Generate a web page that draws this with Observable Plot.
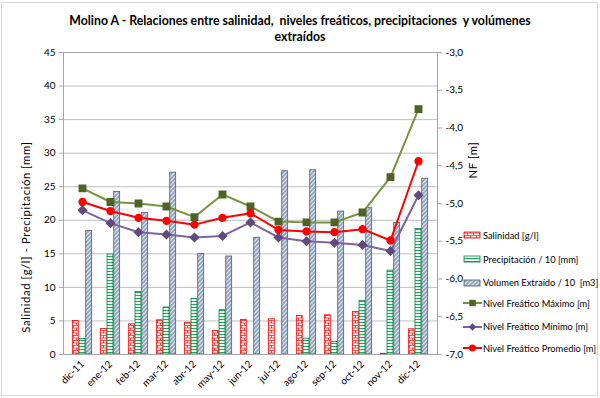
<!DOCTYPE html>
<html><head><meta charset="utf-8">
<script src="https://cdn.jsdelivr.net/npm/d3@7"></script>
<script src="https://cdn.jsdelivr.net/npm/@observablehq/plot@0.6"></script>
<style>
body{margin:0;background:#fff;}
#wrap{position:relative;width:600px;height:398px;font-family:Lato,"Open Sans",sans-serif;color:#000;overflow:hidden;}
#frame{position:absolute;left:1px;top:2px;width:597px;height:394px;border:1px solid #d9d9d9;box-sizing:border-box;}
#title{position:absolute;left:0;top:13px;width:600px;text-align:center;font-weight:bold;font-size:12.3px;line-height:16px;}
.ylab{position:absolute;transform:translate(-50%,-50%) rotate(-90deg);white-space:nowrap;font-size:11.3px;letter-spacing:0.6px;}
#legend{position:absolute;left:463px;top:0;font-size:9.3px;}
.li{position:absolute;left:0;height:12px;display:flex;align-items:center;white-space:nowrap;}
.li svg{margin-right:1px;}
svg.plot{position:absolute;left:0;top:0;}
</style></head><body>
<div id="wrap">
<div id="frame"></div>
<div id="title">Molino A - Relaciones entre salinidad,&nbsp; niveles freáticos, precipitaciones&nbsp; y volúmenes<br>extraídos</div>
</div>
<script>
const months = ["dic-11","ene-12","feb-12","mar-12","abr-12","may-12","jun-12","jul-12","ago-12","sep-12","oct-12","nov-12","dic-12"];
const salinidad = [5.0,3.8,4.5,5.1,4.7,3.5,5.15,5.25,5.75,5.85,6.35,0.1,3.75];
const precip10 = [2.3,14.9,9.3,7.0,8.3,6.6,0,0,2.35,1.85,8.0,12.5,18.7];
const volumen10 = [18.4,24.2,21.1,27.1,15.0,14.6,17.4,27.3,27.45,21.3,21.8,19.6,26.2];
const nfMax = [-4.80,-4.98,-5.00,-5.04,-5.18,-4.88,-5.04,-5.24,-5.25,-5.25,-5.12,-4.65,-3.75];
const nfMin = [-5.09,-5.26,-5.38,-5.41,-5.45,-5.43,-5.25,-5.45,-5.50,-5.52,-5.55,-5.63,-4.89];
const nfProm = [-4.98,-5.10,-5.19,-5.23,-5.28,-5.19,-5.13,-5.35,-5.37,-5.38,-5.34,-5.49,-4.44];
const leftTicks = [0,5,10,15,20,25,30,35,40,45];
const rightTicks = [-7,-6.5,-6,-5.5,-5,-4.5,-4,-3.5,-3];
const legendLabels = ["Salinidad [g/l]","Precipitación / 10 [mm]","Volumen Extraído / 10  [m3]","Nivel Freático Máximo [m]","Nivel Freático Mínimo [m]","Nivel Freático Promedio [m]"];

// right axis (-7..-3) mapped onto left axis (0..45)
const toL = v => (v + 7) * 45 / 4;
const fromL = d => d * 4 / 45 - 7;

const data = months.map((m,i)=>({m, sal:salinidad[i], pre:precip10[i], vol:volumen10[i],
  max:toL(nfMax[i]), min:toL(nfMin[i]), avg:toL(nfProm[i])}));

const W=600,H=398,mL=63,mR=163,mT=52,mB=44;
const bw=(W-mL-mR)/months.length, barW=6.7, g0=(bw-3*barW)/2;
const ins = k => ({insetLeft:g0+k*barW, insetRight:bw-g0-(k+1)*barW});

const cMax="#77933C", cMaxM="#4F6228", cMin="#8064A2", cMinM="#604A7B", cAvg="#FF0000";
const font = 'Lato, "Open Sans", sans-serif';

const plot = Plot.plot({
  width:W, height:H, marginTop:mT, marginBottom:mB, marginLeft:mL, marginRight:mR,
  style:{fontFamily:font, background:"transparent", color:"#000", overflow:"visible"},
  x:{type:"band", domain:months, padding:0},
  y:{domain:[0,45]},
  marks:[
    Plot.gridY(leftTicks.filter(d=>d>0), {stroke:"#bfbfbf", strokeOpacity:1, strokeWidth:1}),
    Plot.barY(data,{x:"m", y:"sal", fill:"url(#pSal)", stroke:"#ff0000", strokeWidth:0.8, ...ins(0)}),
    Plot.barY(data.filter(d=>d.pre>0),{x:"m", y:"pre", fill:"url(#pPre)", stroke:"#00803f", strokeWidth:0.8, ...ins(1)}),
    Plot.barY(data,{x:"m", y:"vol", fill:"url(#pVol)", stroke:"#595959", strokeWidth:0.8, ...ins(2)}),
    Plot.frame({stroke:"#a6a6a6", strokeWidth:1}),
    Plot.line(data,{x:"m", y:"max", stroke:cMax, strokeWidth:2}),
    Plot.dot(data,{x:"m", y:"max", symbol:"square", r:3.6, fill:cMaxM, stroke:cMaxM}),
    Plot.line(data,{x:"m", y:"min", stroke:cMin, strokeWidth:2}),
    Plot.dot(data,{x:"m", y:"min", symbol:"diamond2", r:3.6, fill:cMinM, stroke:cMinM}),
    Plot.line(data,{x:"m", y:"avg", stroke:cAvg, strokeWidth:2}),
    Plot.dot(data,{x:"m", y:"avg", symbol:"circle", r:3.4, fill:cAvg, stroke:cAvg}),
    Plot.axisY({anchor:"left", ticks:leftTicks, tickSize:4, tickPadding:4, fontSize:10, label:null, stroke:"#a6a6a6", fill:"#000"}),
    Plot.axisY({anchor:"right", ticks:rightTicks.map(toL), tickFormat:d=>fromL(d).toFixed(1).replace(".",","), tickSize:4, tickPadding:4, fontSize:10, label:null, stroke:"#a6a6a6", fill:"#000"}),
    Plot.axisX({tickRotate:-45, tickSize:0, tickPadding:8, fontSize:10, label:null, fill:"#000"})
  ]
});
plot.classList.add("plot");
const defs = `<defs>
<pattern id="pSal" patternUnits="userSpaceOnUse" width="6" height="5">
 <rect width="6" height="5" fill="#fff"/>
 <path d="M0,0.5H6M0,3H6M1.5,0.5V3M4.5,3V5.5" stroke="#ff0000" stroke-width="0.7" fill="none"/>
</pattern>
<pattern id="pPre" patternUnits="userSpaceOnUse" width="4" height="3">
 <rect width="4" height="3" fill="#f2f9f2"/>
 <path d="M0,1.5H4" stroke="#00a050" stroke-width="0.9" fill="none"/>
</pattern>
<pattern id="pVol" patternUnits="userSpaceOnUse" width="3" height="3" patternTransform="rotate(45)">
 <rect width="3" height="3" fill="#e4ecf6"/>
 <path d="M1,0V3" stroke="#1f3f6f" stroke-width="0.8" fill="none"/>
</pattern>
</defs>`;
plot.insertAdjacentHTML("afterbegin", defs);
const wrap = document.getElementById("wrap");
wrap.appendChild(plot);

function addLabel(text, x, y){
  const d=document.createElement("div"); d.className="ylab"; d.textContent=text;
  d.style.left=x+"px"; d.style.top=y+"px"; wrap.appendChild(d);
}
addLabel("Salinidad [g/l] - Precipitación [mm]", 24.5, 237);
addLabel("NF [m]", 472, 160);

// legend
const lg=document.createElement("div"); lg.id="legend"; wrap.appendChild(lg);
const ly=[235,259,282.5,303,326.5,348];
const sw = [
 `<rect x="1" y="2" width="16" height="6" fill="url(#pSal)" stroke="#ff0000" stroke-width="0.8"/>`,
 `<rect x="1" y="2" width="16" height="6" fill="url(#pPre)" stroke="#00803f" stroke-width="0.8"/>`,
 `<rect x="1" y="2" width="16" height="6" fill="url(#pVol)" stroke="#595959" stroke-width="0.8"/>`,
 `<line x1="0" y1="5" x2="19" y2="5" stroke="${cMax}" stroke-width="2"/><rect x="6.3" y="1.8" width="6.4" height="6.4" fill="${cMaxM}"/>`,
 `<line x1="0" y1="5" x2="19" y2="5" stroke="${cMin}" stroke-width="2"/><path d="M9.5,1.2L13.3,5L9.5,8.8L5.7,5Z" fill="${cMinM}"/>`,
 `<line x1="0" y1="5" x2="19" y2="5" stroke="${cAvg}" stroke-width="2"/><circle cx="9.5" cy="5" r="3.4" fill="${cAvg}"/>`
];
legendLabels.forEach((t,i)=>{
  const e=document.createElement("div"); e.className="li"; e.style.top=(ly[i]-6)+"px";
  e.innerHTML=`<svg width="19" height="10">${sw[i]}</svg><span>${t.replace("  ","&nbsp; ")}</span>`;
  lg.appendChild(e);
});
</script>
</body></html>
